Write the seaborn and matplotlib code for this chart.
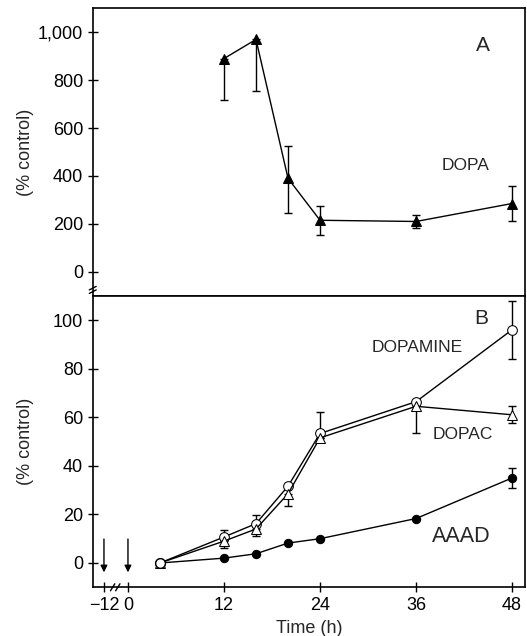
import seaborn as sns
import pandas as pd
import matplotlib.pyplot as plt

sns.set_style("ticks")
plt.rcParams['font.family'] = ['Liberation Sans', 'DejaVu Sans']

# panel A: DOPA
dopa_time = [12, 16, 20, 24, 36, 48]
dopa = [890, 970, 390, 215, 210, 285]
dopa_lo = [175, 215, 145, 60, 28, 75]
dopa_hi = [0, 0, 135, 60, 28, 75]

# panel B
time = [4, 12, 16, 20, 24, 36, 48]
dopamine = [0, 10.7, 16.2, 31.6, 53.3, 66.4, 96]
dopamine_lo = [0, 0, 0, 0, 0, 0, 12]
dopamine_hi = [0, 3, 3.5, 0, 9, 0, 12]
dopac = [0, 9, 14, 28.5, 51.5, 64.5, 61]
dopac_lo = [0, 3, 3, 5, 0, 11, 3.5]
dopac_hi = [0, 0, 0, 0, 0, 0, 3.5]
aaad = [0, 2, 3.8, 8.2, 10, 18.3, 35]
aaad_lo = [0, 0, 0, 0, 0, 0, 4]
aaad_hi = [0, 0, 0, 0, 0, 0, 4]

xtick_pos = [-3, 0, 12, 24, 36, 48]
xtick_labels = ["\u221212", "0", "12", "24", "36", "48"]
arrow_x = [-3, 0]

dfa = pd.DataFrame({"Time": dopa_time, "DOPA": dopa})
dfb = pd.DataFrame({"Time": time, "DOPAMINE": dopamine, "DOPAC": dopac, "AAAD": aaad})

fig = plt.figure(figsize=(5.27, 6.36), dpi=100)
ax1 = fig.add_axes([0.176, 0.535, 0.82, 0.452])
ax2 = fig.add_axes([0.176, 0.0766, 0.82, 0.4584])

# ---- A ----
ax1.errorbar(dopa_time, dopa, yerr=[dopa_lo, dopa_hi], fmt='none', ecolor='k',
             elinewidth=1, capsize=3, capthick=1)
sns.lineplot(data=dfa, x="Time", y="DOPA", ax=ax1, color='k', lw=1,
             marker='^', markersize=7, markeredgecolor='k', markerfacecolor='k')
ax1.set_xlim(-4.4, 49.6)
ax1.set_ylim(-100, 1100)
ax1.set_yticks([0, 200, 400, 600, 800, 1000])
ax1.set_yticklabels(["0", "200", "400", "600", "800", "1,000"])
ax1.set_xticks([])
ax1.set_xlabel("")
ax1.set_ylabel("(% control)", fontsize=13)
ax1.text(44.4, 945, "A", fontsize=15, ha='center', va='center')
ax1.text(42.2, 443, "DOPA", fontsize=12.5, ha='center', va='center')

# ---- B ----
for y, lo, hi in [(dopamine, dopamine_lo, dopamine_hi), (dopac, dopac_lo, dopac_hi),
                  (aaad, aaad_lo, aaad_hi)]:
    ax2.errorbar(time, y, yerr=[lo, hi], fmt='none', ecolor='k',
                 elinewidth=1, capsize=3, capthick=1)
sns.lineplot(data=dfb, x="Time", y="DOPAMINE", ax=ax2, color='k', lw=1,
             marker='o', markersize=7, markeredgecolor='k', markerfacecolor='white')
sns.lineplot(data=dfb, x="Time", y="DOPAC", ax=ax2, color='k', lw=1,
             marker='^', markersize=7, markeredgecolor='k', markerfacecolor='white')
sns.lineplot(data=dfb, x="Time", y="AAAD", ax=ax2, color='k', lw=1,
             marker='o', markersize=6, markeredgecolor='k', markerfacecolor='k')
# shared starting point
ax2.plot(time[:1], dopamine[:1], 'o', color='k', markerfacecolor='white', markersize=7, zorder=5)

ax2.set_xlim(-4.4, 49.6)
ax2.set_ylim(-10, 110)
ax2.set_yticks([0, 20, 40, 60, 80, 100])
ax2.set_xticks(xtick_pos)
ax2.set_xticklabels(xtick_labels)
ax2.set_xlabel("Time (h)", fontsize=13)
ax2.set_ylabel("(% control)", fontsize=13)
ax2.text(44.1, 100.5, "B", fontsize=15, ha='center', va='center')
ax2.text(36.1, 88.6, "DOPAMINE", fontsize=12.5, ha='center', va='center')
ax2.text(41.9, 52.9, "DOPAC", fontsize=12.5, ha='center', va='center')
ax2.text(41.7, 10.7, "AAAD", fontsize=15.5, ha='center', va='center')

for xa in arrow_x:
    ax2.annotate("", xy=(xa, -5), xytext=(xa, 11),
                 arrowprops=dict(arrowstyle='-|>', color='k', lw=1, mutation_scale=10))

for ax in (ax1, ax2):
    for s in ax.spines.values():
        s.set_linewidth(1.2)
        s.set_color('k')
    ax.tick_params(direction='inout', length=7, width=1, labelsize=13, colors='k')
    ax.grid(False)
    ax.yaxis.set_label_coords(-0.135, 0.5)

# axis break marks
for dy in (-0.006, 0.006):
    ax2.plot([-0.008, 0.008], [1.0 + dy - 0.006 + 0.02, 1.0 + dy + 0.006 + 0.02],
             transform=ax2.transAxes, color='k', lw=1, clip_on=False)
for dx in (-0.006, 0.006):
    ax2.plot([0.052 + dx - 0.005, 0.052 + dx + 0.005], [-0.012, 0.012],
             transform=ax2.transAxes, color='k', lw=1, clip_on=False)

fig.savefig("out.png", dpi=100)
